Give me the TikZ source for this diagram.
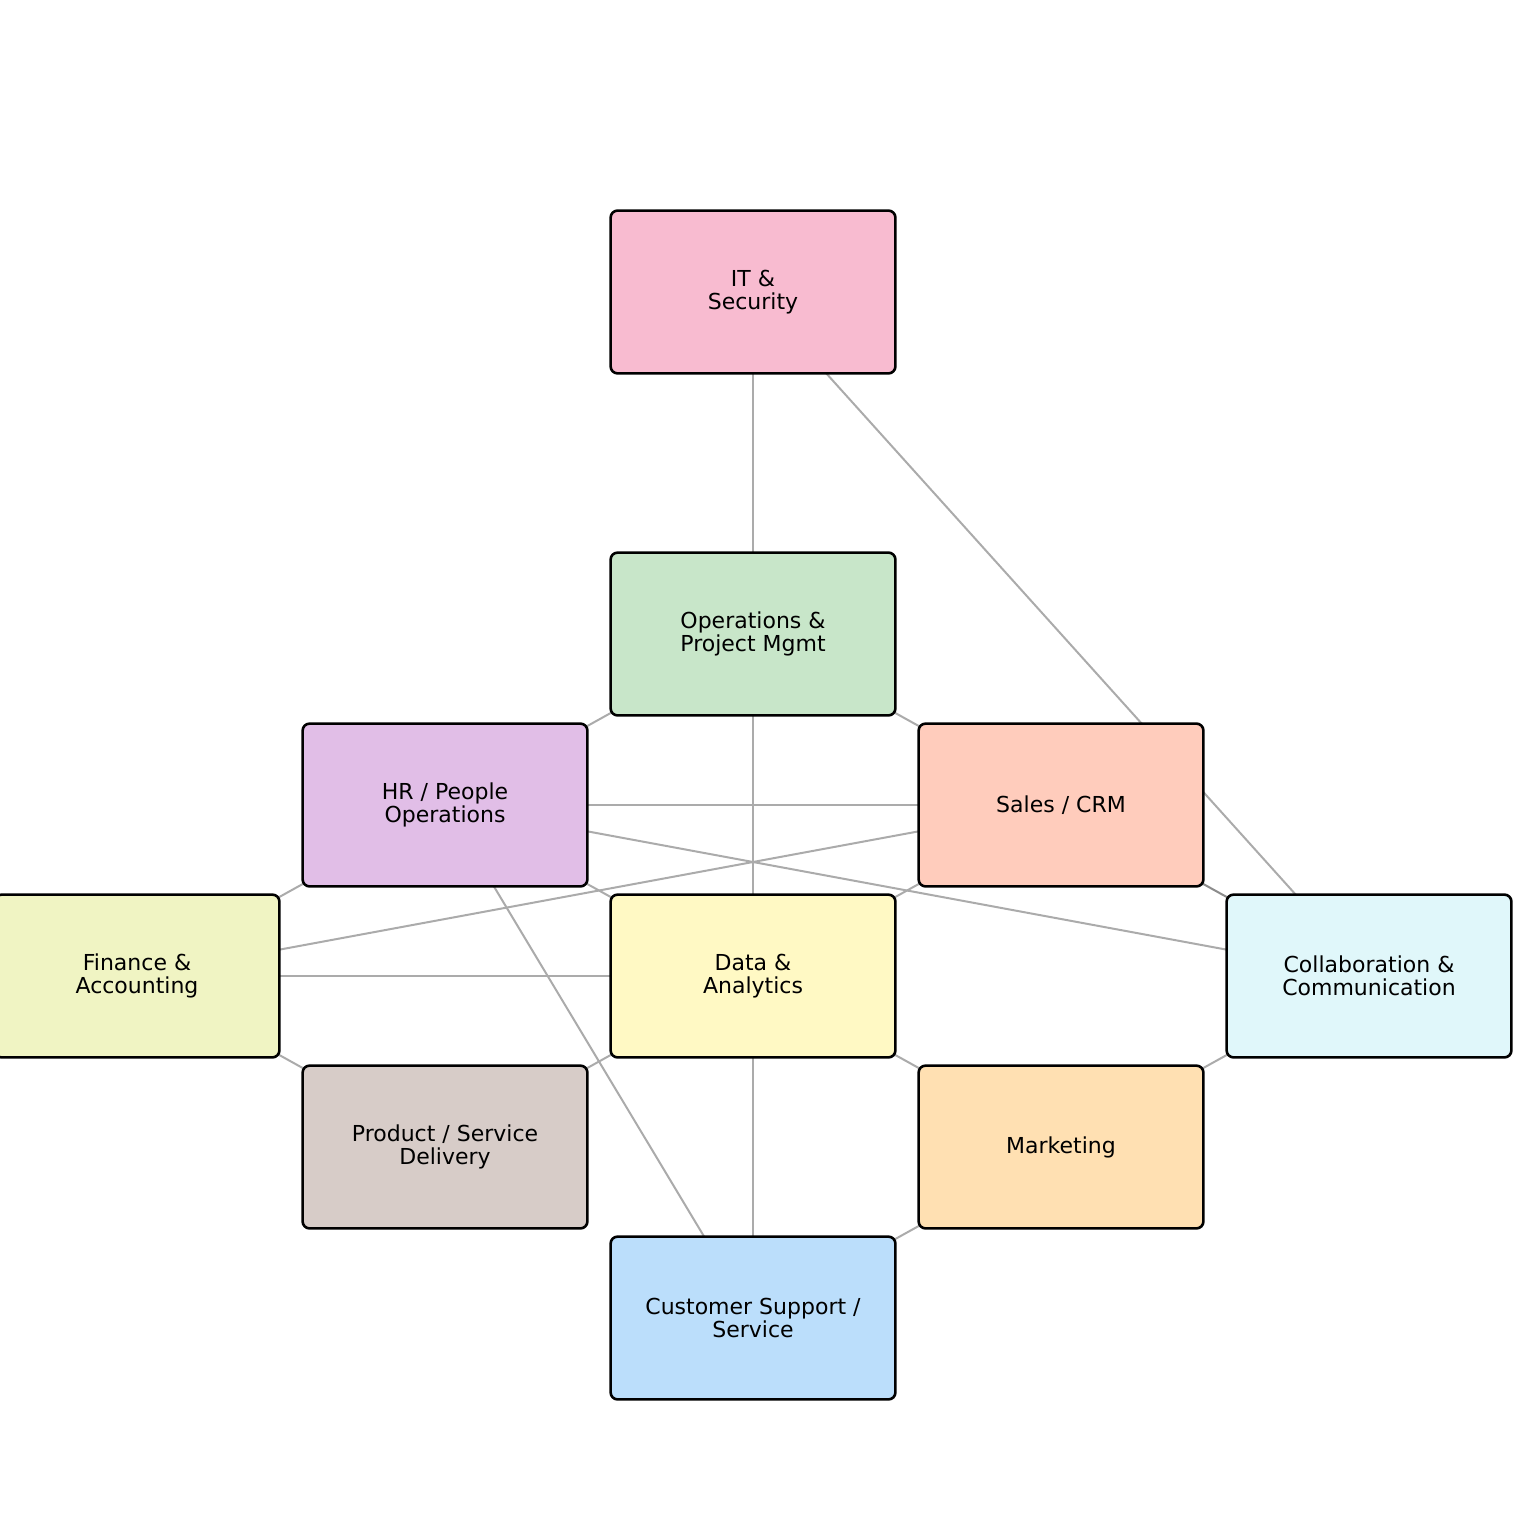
\documentclass[tikz,border=0pt]{standalone}
\usepackage{fontspec}
\setmainfont{DejaVu Sans}
\usetikzlibrary{backgrounds}
\definecolor{cIT}{HTML}{F8BBD0}
\definecolor{cOps}{HTML}{C8E6C9}
\definecolor{cHR}{HTML}{E1BEE7}
\definecolor{cSales}{HTML}{FFCCBC}
\definecolor{cFin}{HTML}{F0F4C3}
\definecolor{cData}{HTML}{FFF9C4}
\definecolor{cCollab}{HTML}{E0F7FA}
\definecolor{cProd}{HTML}{D7CCC8}
\definecolor{cMkt}{HTML}{FFE0B2}
\definecolor{cCS}{HTML}{BBDEFB}
\definecolor{edgegray}{HTML}{ABABAB}
\definecolor{edgedark}{HTML}{8C8C8C}
\tikzset{
  unitbox/.style={draw=black, line width=1.3pt, rounded corners=3.5pt,
    minimum width=142.4pt, minimum height=81.4pt, inner sep=0pt,
    align=center, font=\fontsize{11}{11.4}\selectfont, text=black},
  link/.style={draw=edgegray, line width=1pt},
  linkdark/.style={draw=edgedark, line width=1pt}
}
\begin{document}
\begin{tikzpicture}[x=0.5pt,y=-0.5pt]
\useasboundingbox (0,0) rectangle (1519,1519);
\node[unitbox, fill=cIT] (it) at (753,292) {IT \&\\Security};
\node[unitbox, fill=cOps] (ops) at (753,634) {Operations \&\\Project Mgmt};
\node[unitbox, fill=cHR] (hr) at (445,805) {HR / People\\Operations};
\node[unitbox, fill=cSales] (sales) at (1061,805) {Sales / CRM};
\node[unitbox, fill=cFin] (fin) at (137,976) {Finance \&\\Accounting};
\node[unitbox, fill=cData] (data) at (753,976) {Data \&\\Analytics};
\node[unitbox, fill=cCollab] (collab) at (1369,976) {Collaboration \&\\Communication};
\node[unitbox, fill=cProd] (prod) at (445,1147) {Product / Service\\Delivery};
\node[unitbox, fill=cMkt] (mkt) at (1061,1147) {Marketing};
\node[unitbox, fill=cCS] (cs) at (753,1318) {Customer Support /\\Service};
\begin{scope}[on background layer]
\draw[link] (it.center) -- (ops.center);
\draw[link] (it.center) -- (collab.center);
\draw[link] (ops.center) -- (hr.center);
\draw[link] (ops.center) -- (sales.center);
\draw[link] (ops.center) -- (data.center);
\draw[link] (hr.center) -- (sales.center);
\draw[link] (hr.center) -- (collab.center);
\draw[link] (sales.center) -- (fin.center);
\draw[link] (hr.center) -- (fin.center);
\draw[link] (hr.center) -- (data.center);
\draw[link] (hr.center) -- (cs.center);
\draw[link] (sales.center) -- (data.center);
\draw[linkdark] (sales.center) -- (collab.center);
\draw[link] (fin.center) -- (data.center);
\draw[link] (fin.center) -- (prod.center);
\draw[link] (data.center) -- (prod.center);
\draw[link] (data.center) -- (mkt.center);
\draw[link] (data.center) -- (cs.center);
\draw[link] (collab.center) -- (mkt.center);
\draw[link] (mkt.center) -- (cs.center);
\end{scope}
\end{tikzpicture}
\end{document}
